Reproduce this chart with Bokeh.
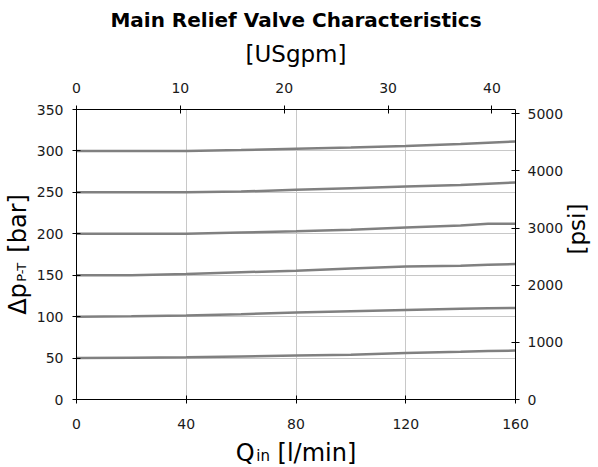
import math
from bokeh.plotting import figure
from bokeh.models import Range1d, LinearAxis, FixedTicker
from bokeh.embed import file_html
from bokeh.resources import INLINE

# ---- data ----
q_lpm = [0, 20, 40, 60, 80, 100, 120, 140, 150, 160]
dp_300 = [300, 300, 300, 301, 302.5, 304, 306, 308.5, 310, 311.5]
dp_250 = [250, 250, 250, 251, 253, 255, 257, 259, 260.5, 262]
dp_200 = [200, 200, 200, 201.5, 203, 205, 207.5, 210, 212, 212]
dp_150 = [150, 150, 151.5, 153.5, 155.5, 158, 160.5, 161.5, 162.5, 163.5]
dp_100 = [100, 100.5, 101.5, 103, 105, 106.5, 108, 109.5, 110, 110.5]
dp_50 = [50, 50.5, 51, 52, 53, 54, 56, 57.5, 58.5, 59]
series = [dp_50, dp_100, dp_150, dp_200, dp_250, dp_300]

q_ticks = [0, 40, 80, 120, 160]
dp_ticks = [0, 50, 100, 150, 200, 250, 300, 350]
gpm_ticks = [0, 10, 20, 30, 40]
psi_ticks = [0, 1000, 2000, 3000, 4000, 5000]

title_text = "Main Relief Valve Characteristics"
x_label_main = "Q\u00a0\u00a0\u00a0[l/min]"
x_label_sub = "in"
y_label_main = "\u0394p\u00a0\u00a0\u00a0\u00a0[bar]"
y_label_sub = "P-T"
top_label = "[USgpm]"
right_label = "[psi]"

LPM_PER_GPM = 3.785411784
PSI_PER_BAR = 14.5037738
Q_MAX = 160
DP_MAX = 350
X_SUB = 68    # where the subscript "in" sits along the flow axis
Y_SUB = 165   # where the subscript "P-T" sits along the pressure axis

FONT = "DejaVu Sans"
W_LEFT, W_FRAME, W_RIGHT = 76, 439, 83
H_TOP, H_FRAME, H_BOTTOM = 109, 290, 68

p = figure(frame_width=W_FRAME, frame_height=H_FRAME,
           x_range=Range1d(0, Q_MAX), y_range=Range1d(0, DP_MAX),
           output_backend="svg", toolbar_location=None,
           min_border_left=W_LEFT, min_border_right=W_RIGHT,
           min_border_top=H_TOP, min_border_bottom=H_BOTTOM)
p.outline_line_color = None

p.title.text = title_text
p.title.align = "center"
p.title.text_font = FONT
p.title.text_font_size = "20px"
p.title.text_font_style = "bold"
p.title.text_color = "black"
p.title.standoff = 11

p.extra_x_ranges = {"gpm": Range1d(0, Q_MAX / LPM_PER_GPM)}
p.extra_y_ranges = {"psi": Range1d(0, DP_MAX * PSI_PER_BAR)}
top_axis = LinearAxis(x_range_name="gpm", ticker=FixedTicker(ticks=gpm_ticks))
right_axis = LinearAxis(y_range_name="psi", ticker=FixedTicker(ticks=psi_ticks))
p.add_layout(top_axis, "above")
p.add_layout(right_axis, "right")

bottom_axis = p.below[0]
left_axis = p.left[0]
bottom_axis.ticker = FixedTicker(ticks=q_ticks)
left_axis.ticker = FixedTicker(ticks=dp_ticks)

for ax in [bottom_axis, left_axis, top_axis, right_axis]:
    ax.axis_line_color = "black"
    ax.major_tick_line_color = "black"
    ax.major_tick_in = 4
    ax.major_tick_out = 4
    ax.minor_tick_line_color = None
    ax.major_label_text_font = FONT
    ax.major_label_text_font_size = "14px"
    ax.major_label_text_color = "#1a1a1a"
    ax.axis_label_text_font = FONT
    ax.axis_label_text_font_style = "normal"
    ax.axis_label_text_color = "black"
    ax.axis_label_text_font_size = "24px"

bottom_axis.major_label_standoff = 15
top_axis.major_label_standoff = 13
left_axis.major_label_standoff = 9
right_axis.major_label_standoff = 8

bottom_axis.axis_label = x_label_main
bottom_axis.axis_label_standoff = 7
left_axis.axis_label = y_label_main
left_axis.axis_label_standoff = 2
top_axis.axis_label = top_label
top_axis.axis_label_text_font_size = "23px"
top_axis.axis_label_standoff = 13
right_axis.axis_label = right_label
right_axis.axis_label_text_font_size = "23px"
right_axis.axis_label_standoff = 11
if "axis_label_orientation" in right_axis.properties():
    right_axis.axis_label_orientation = math.pi / 2

# subscripts, drawn as tick labels of label-only axes
def sub_axis(tick, text, standoff, size):
    ax = LinearAxis(ticker=FixedTicker(ticks=[tick]),
                    major_label_overrides={tick: text})
    ax.axis_line_color = None
    ax.major_tick_line_color = None
    ax.minor_tick_line_color = None
    ax.major_tick_in = 0
    ax.major_tick_out = 0
    ax.major_label_standoff = standoff
    ax.major_label_text_font = FONT
    ax.major_label_text_font_size = size
    ax.major_label_text_color = "black"
    return ax

in_axis = sub_axis(X_SUB, x_label_sub, -23, "15px")
p.add_layout(in_axis, "below")
pt_axis = sub_axis(Y_SUB, y_label_sub, -21, "13px")
pt_axis.major_label_orientation = math.pi / 2
p.add_layout(pt_axis, "left")

p.xgrid.ticker = FixedTicker(ticks=q_ticks)
p.ygrid.ticker = FixedTicker(ticks=dp_ticks)
p.grid.grid_line_color = "#c8c8c8"

for s in series:
    p.line(q_lpm, s, line_color="#808080", line_width=2.5)

open("out.html", "w").write(file_html(p, INLINE))
